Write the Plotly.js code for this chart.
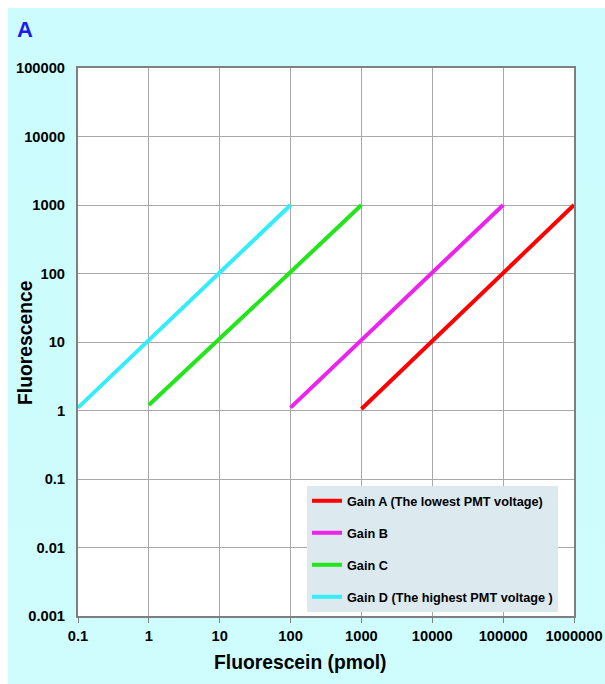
<!DOCTYPE html>
<html>
<head>
<meta charset="utf-8">
<script src="https://cdn.plot.ly/plotly-3.0.1.min.js"></script>
<style>
  html, body { margin: 0; padding: 0; background: #ffffff; width: 605px; height: 684px; overflow: hidden; }
  #bg { position: absolute; left: 8px; top: 8px; width: 597px; height: 676px; background: linear-gradient(180deg, #ccfcfd 0%, #cffcfd 100%); }
  #chart { position: absolute; left: 0; top: 0; width: 605px; height: 684px; }
</style>
</head>
<body>
<div id="bg"></div>
<div id="chart"></div>
<script>
// Data
const gainA_x = [1000, 10000, 100000, 1000000];
const gainA_y = [1.05, 10.3, 102, 1000];
const gainB_x = [100, 1000, 10000, 100000];
const gainB_y = [1.1, 10.6, 104, 1000];
const gainC_x = [1, 10, 100, 1000];
const gainC_y = [1.2, 11, 105, 1000];
const gainD_x = [0.1, 1, 10, 100];
const gainD_y = [1.1, 10.6, 104, 1000];

const seriesNames = ["Gain A (The lowest PMT voltage)", "Gain B", "Gain C", "Gain D (The highest PMT voltage )"];
const seriesColors = ["#ff0000", "#ee22ee", "#22e61a", "#33eef8"];

const xTickVals = [0.1, 1, 10, 100, 1000, 10000, 100000, 1000000];
const xTickText = ["0.1", "1", "10", "100", "1000", "10000", "100000", "1000000"];
const yTickVals = [0.001, 0.01, 0.1, 1, 10, 100, 1000, 10000, 100000];
const yTickText = ["0.001", "0.01", "0.1", "1", "10", "100", "1000", "10000", "100000"];

const xs = [gainA_x, gainB_x, gainC_x, gainD_x];
const ys = [gainA_y, gainB_y, gainC_y, gainD_y];

const traces = xs.map((x, i) => ({
  type: "scatter",
  mode: "lines",
  x: x,
  y: ys[i],
  name: seriesNames[i],
  legendgroup: "g" + i,
  line: { color: seriesColors[i], width: 4 }
}));

const font = { family: "Liberation Sans, Arial, sans-serif", color: "#000000" };

const layout = {
  width: 605,
  height: 684,
  margin: { l: 78, r: 31, t: 68, b: 68 },
  paper_bgcolor: "rgba(0,0,0,0)",
  plot_bgcolor: "#ffffff",
  showlegend: true,
  font: font,
  xaxis: {
    type: "log",
    range: [-1, 6],
    tickvals: xTickVals,
    ticktext: xTickText,
    tickfont: { family: font.family, size: 14.7, color: "#000", weight: "bold" },
    ticks: "outside",
    ticklen: 5,
    tickwidth: 1,
    tickcolor: "#7f7f7f",
    showgrid: true,
    gridcolor: "#a8a8a8",
    gridwidth: 1,
    showline: true,
    linecolor: "#7f7f7f",
    linewidth: 2,
    mirror: true,
    zeroline: false
  },
  yaxis: {
    type: "log",
    range: [-3, 5],
    tickvals: yTickVals,
    ticktext: yTickText,
    tickfont: { family: font.family, size: 14.7, color: "#000", weight: "bold" },
    ticks: "outside",
    ticklen: 8,
    tickcolor: "rgba(0,0,0,0)",
    showgrid: true,
    gridcolor: "#a8a8a8",
    gridwidth: 1,
    showline: true,
    linecolor: "#7f7f7f",
    linewidth: 2,
    mirror: true,
    zeroline: false
  },
  legend: {
    x: 0.4617,
    y: 0.2372,
    xanchor: "left",
    yanchor: "top",
    bgcolor: "#dce9ef",
    borderwidth: 0,
    traceorder: "grouped",
    tracegroupgap: 12.5,
    font: { family: font.family, size: 12.7, color: "#000", weight: "bold" }
  },
  annotations: [
    {
      text: "Fluorescein (pmol)",
      xref: "paper", yref: "paper",
      x: 0.4476, y: -0.084,
      xanchor: "center", yanchor: "middle",
      showarrow: false,
      font: { family: font.family, size: 19.3, color: "#000", weight: "bold" }
    },
    {
      text: "Fluorescence",
      xref: "paper", yref: "paper",
      x: -0.107, y: 0.5,
      xanchor: "center", yanchor: "middle",
      textangle: -90,
      showarrow: false,
      font: { family: font.family, size: 19.3, color: "#000", weight: "bold" }
    },
    {
      text: "A",
      xref: "paper", yref: "paper",
      x: -0.127, y: 1.071,
      xanchor: "left", yanchor: "middle",
      showarrow: false,
      font: { family: font.family, size: 22, color: "#1a1aee", weight: "bold" }
    }
  ]
};

Plotly.newPlot("chart", traces, layout, { displayModeBar: false, staticPlot: true });
</script>
</body>
</html>
